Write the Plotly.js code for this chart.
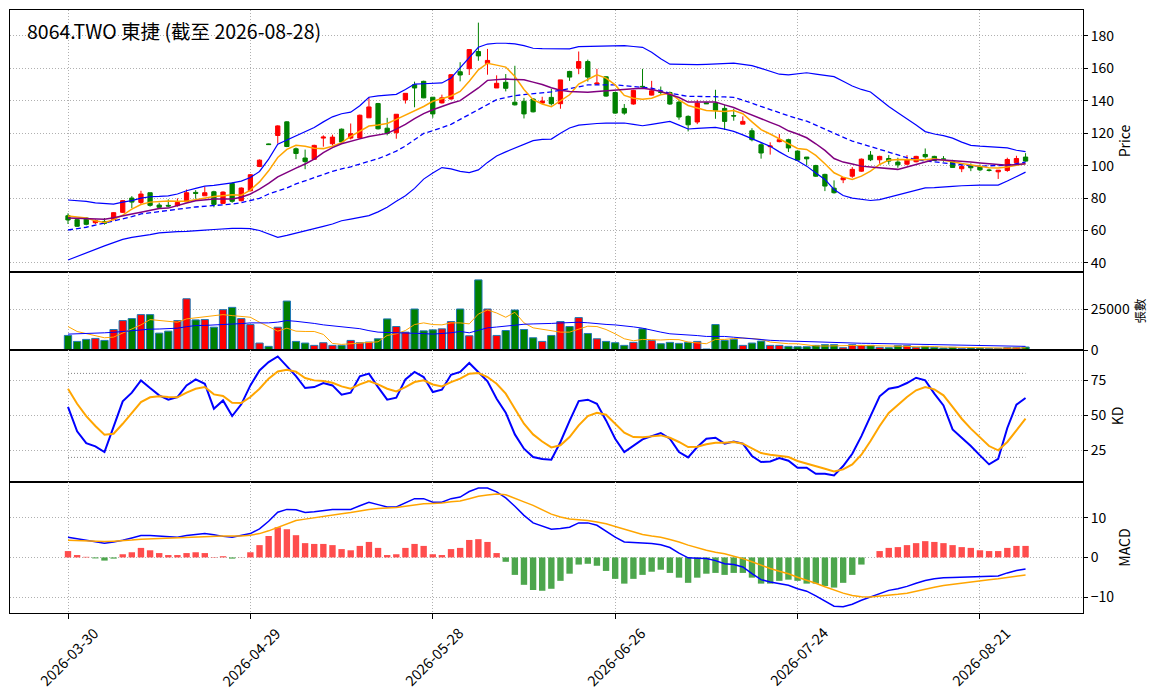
<!DOCTYPE html>
<html><head><meta charset="utf-8">
<script src="https://cdn.plot.ly/plotly-3.0.1.min.js"></script>
<style>html,body{margin:0;padding:0;background:#fff}#chart{width:1164px;height:698px}</style>
</head><body><div id="chart"></div>
<script>
const dates = [
"2026-03-30","2026-03-31","2026-04-01","2026-04-02","2026-04-07","2026-04-08","2026-04-09","2026-04-10","2026-04-13","2026-04-14",
"2026-04-15","2026-04-16","2026-04-17","2026-04-20","2026-04-21","2026-04-22","2026-04-23","2026-04-24","2026-04-27","2026-04-28",
"2026-04-29","2026-04-30","2026-05-04","2026-05-05","2026-05-06","2026-05-07","2026-05-08","2026-05-11","2026-05-12","2026-05-13",
"2026-05-14","2026-05-15","2026-05-18","2026-05-19","2026-05-20","2026-05-21","2026-05-22","2026-05-25","2026-05-26","2026-05-27",
"2026-05-28","2026-05-29","2026-06-01","2026-06-02","2026-06-03","2026-06-04","2026-06-05","2026-06-08","2026-06-09","2026-06-10",
"2026-06-11","2026-06-12","2026-06-15","2026-06-16","2026-06-17","2026-06-18","2026-06-22","2026-06-23","2026-06-24","2026-06-25",
"2026-06-26","2026-06-29","2026-06-30","2026-07-01","2026-07-02","2026-07-03","2026-07-06","2026-07-07","2026-07-08","2026-07-09",
"2026-07-10","2026-07-13","2026-07-14","2026-07-15","2026-07-16","2026-07-17","2026-07-20","2026-07-21","2026-07-22","2026-07-23",
"2026-07-24","2026-07-27","2026-07-28","2026-07-29","2026-07-30","2026-07-31","2026-08-03","2026-08-04","2026-08-05","2026-08-06",
"2026-08-07","2026-08-10","2026-08-11","2026-08-12","2026-08-13","2026-08-14","2026-08-17","2026-08-18","2026-08-19","2026-08-20",
"2026-08-21","2026-08-24","2026-08-25","2026-08-26","2026-08-27","2026-08-28"];
const tickDates = ["2026-03-30","2026-04-29","2026-05-28","2026-06-26","2026-07-24","2026-08-21"];

const open = [69.1,66.7,67.7,64.8,65.6,66.7,71.2,80.0,77.3,83.3,
75.7,75.5,75.3,77.7,83.5,81.4,83.9,76.7,89.0,78.4,
84.5,99.5,113.4,118.6,127.0,110.4,104.7,103.9,117.0,113.5,
122.5,117.0,117.0,129.5,138.3,123.1,120.3,140.5,149.9,152.0,
142.2,138.7,141.1,157.9,159.8,170.4,163.0,147.9,151.4,139.1,
139.7,141.1,138.6,142.1,138.2,158.1,160.1,164.2,150.3,154.8,
145.1,135.3,138.0,148.9,143.5,145.5,145.1,139.2,130.4,126.9,
138.8,138.6,135.3,130.9,125.6,121.5,112.9,111.7,114.8,116.0,
109.0,105.3,100.1,94.6,86.1,91.3,93.5,96.6,106.5,103.6,
104.4,102.2,100.9,102.4,106.9,105.7,104.2,102.6,98.1,99.9,
99.1,97.3,96.2,97.0,101.8,105.3];
const close = [66.5,62.6,63.8,66.1,64.4,71.0,78.4,77.5,82.5,75.5,
74.3,75.1,77.3,83.3,82.9,83.3,76.1,83.7,78.0,86.2,
94.4,103.4,113.0,124.5,111.8,107.5,102.5,112.5,117.6,117.6,
114.6,119.7,131.1,136.2,122.7,119.9,131.7,144.6,147.9,141.8,
131.9,141.8,156.1,155.9,171.6,167.7,164.9,150.8,147.7,137.5,
131.9,133.2,139.8,138.2,152.9,154.6,164.2,154.6,150.9,142.9,
132.4,132.4,146.4,148.6,146.2,145.2,138.0,130.0,125.2,138.6,
138.2,134.1,127.3,130.6,127.3,116.0,107.8,112.1,116.0,110.9,
103.4,104.2,93.5,87.4,83.3,92.5,97.7,104.0,103.6,105.7,
102.8,100.5,103.6,105.7,105.5,103.2,103.8,98.9,99.5,98.7,
97.4,97.1,97.2,103.8,104.4,102.8];
const high = [70.6,67.1,68.1,66.9,67.7,71.3,78.8,81.2,84.5,83.3,
77.1,79.2,79.8,85.3,84.9,87.0,84.5,84.1,89.8,86.6,
94.8,103.8,113.6,124.9,127.4,111.2,109.9,112.9,118.7,119.1,
122.9,126.0,131.5,142.2,138.7,129.5,131.7,144.6,151.8,152.4,
142.2,143.8,156.5,163.8,171.6,188.2,172.0,155.7,156.5,161.6,
141.8,141.5,142.5,147.4,152.9,158.5,170.4,165.4,159.7,155.2,
145.5,138.0,146.8,159.7,152.3,148.8,145.7,140.6,131.0,140.6,
139.0,146.8,137.5,135.1,130.4,123.1,113.9,114.4,119.5,116.6,
109.4,105.3,100.5,95.0,90.9,92.9,99.1,104.4,109.0,106.1,
106.5,104.9,106.5,106.1,110.6,106.1,105.9,103.6,100.1,101.4,
100.7,98.1,97.2,104.9,106.1,107.7];
const low = [64.0,62.2,63.2,64.0,63.6,66.3,70.8,73.8,75.9,74.7,
73.8,74.3,74.7,77.5,79.6,81.4,74.3,76.3,77.1,77.9,
84.1,99.1,112.8,113.6,111.4,104.0,97.8,103.5,111.7,112.5,
114.2,116.2,116.6,129.5,122.3,118.7,116.6,138.3,136.0,141.6,
129.5,138.3,140.7,152.0,155.9,164.7,156.1,147.9,145.8,137.1,
129.1,132.8,138.2,137.1,135.1,152.3,156.4,151.9,149.8,142.5,
132.0,131.4,137.6,148.2,143.3,143.7,137.5,128.3,121.1,125.6,
138.0,128.9,122.0,127.7,125.6,115.0,104.3,106.8,114.4,108.4,
103.0,100.1,93.1,84.3,82.8,89.2,92.5,96.2,102.8,101.2,
100.7,98.7,100.3,102.0,104.4,102.8,102.4,98.7,96.0,96.6,
96.6,96.4,91.8,96.2,101.8,102.4];

const bbUpper = [78.8,78.5,78,77,76.5,76.3,77.5,78.4,80,80.8,
81,81.4,82.5,84.5,86,87.4,87.8,88.5,89.4,90.5,
92.7,96.4,104,113.2,115.7,118.5,120.6,123.5,127,130.1,
132,133,137,142.2,143,143.5,144,147,150.3,150.5,
150.8,151,154,160.2,167,173,175,175.5,175.5,175.1,
174,172.4,172.2,172,171.8,172,173.4,173.6,173.8,174,
174,174,173.5,173,170,166,162.6,162.4,162.2,162.3,
162.5,162.8,163,163.2,162.5,161.7,160,158,156.4,156,
156.8,157.3,156.5,155.8,154.9,152,149.1,147,145.4,141,
136.5,132.6,129,125,121,119.5,118.5,117,114.5,112.5,
112,111.6,111.3,111,109.5,108.6];
const bbMid = [60.3,61,62,63.3,64.5,66,67.3,68.5,70.2,71,
71.8,72.6,73.2,73.8,74.5,74.9,75.2,75.7,76.3,77.2,
78.4,79.8,82.5,84.5,86.2,88.7,90.7,92.5,94.7,96.5,
98,99.2,101,102.5,104.3,106.5,109,112.1,116,119.9,
121.5,123.4,125.5,128.5,131.5,134.6,138,140.7,142,143.2,
143.8,144.4,144.6,145.5,146.5,147.4,148.6,149.8,149.8,149.8,
149.8,149.3,148.8,148.3,147.8,146.3,144.7,143.7,142.7,142.7,
142.7,142.7,142.4,142.1,140.4,138.6,136.5,134.5,132.5,130.8,
129,127.5,125,122.5,120.3,117.5,115.1,113.5,111.7,110,
108.3,106.6,104.9,103.8,102.8,102.3,101.7,100.7,100.3,99.9,
99.7,99.8,100,100.3,101.2,102.2];
const bbLower = [41.8,44,46.5,48.5,50.5,52.5,54.5,55.8,56.5,57.5,
58.5,59,59.3,59.5,59.7,60.2,60.6,61,61.3,61.3,
61.1,60,57.8,55.8,57,58.3,59.5,61,62.5,64,
66,67,68,69.2,71.5,74.3,78,81.4,86,91.7,
95.5,98.8,98,96.5,95.7,97.4,102,106,108.5,110.9,
113,115.4,116.2,116.4,120,123.2,125,125.6,126,126.2,
126.3,126.3,125.5,124.6,125.5,126.5,127.3,125,122.6,123,
123.3,123.6,122.5,121.1,119,116.6,114.2,111.9,108.5,105.3,
103,99.7,95.5,91.5,85.3,81.6,80,79.2,78.5,79,
80.5,81.6,83.3,85,86.3,86.5,86.7,87.2,87.6,88,
88,88,88,90.5,93.5,96];
const ma5 = [69,68.3,67.7,66,65,66.7,69.5,73.2,76,77.5,
78,78.2,78,78,79,80,81,81.5,82,81.8,
84.9,90,96.8,105,110,112.6,112,110.8,110.5,112,
114.2,118,121,124.4,125,126,128.5,131,133.6,136.5,
139.7,141.5,143,145.8,152,159.1,163.2,162,160.8,155,
147,140.7,138,136.3,140,143.7,150.3,153,156,154,
149.8,143.3,141.6,141,141.6,143.7,144.7,140.6,137.1,135.5,
134,133.7,133.4,134,132,127,122.2,119.5,116.6,113.5,
110.6,110,106.3,101.2,95.6,92.9,91.5,93.5,96.6,100.7,
103.4,103.8,103.6,103.6,103.6,104.2,103.5,102.4,101.3,100.3,
99.5,98.7,98.5,99.1,100.2,101.2];
const ma10 = [67.7,67.5,67.3,67.2,67,67.8,68.8,70.2,71.3,72.5,
73.5,73.8,75.5,77,78.4,79,79.4,79.4,79.4,80.5,
82.5,85.5,89,93.1,96,98.5,101,104,108,111.1,
113.5,115.2,116.5,118,119,119.9,122.5,125.4,129,132.1,
134.5,136.6,138.5,140.1,144,147.9,152.6,153.2,153.4,153.2,
153,151.5,150,148,146.5,145.7,145.5,145.3,145.8,146.3,
146.6,147,147.4,147.8,147,145.7,144,142,139.2,139.2,
139.2,139.2,137.5,135.9,133.5,131.4,129,126.7,124.5,121.5,
119.5,117.2,113.5,109.4,104.4,102.2,101,99.7,99.2,98.7,
98.3,97.7,99.2,100.7,102.5,103.8,103.5,103.2,102.7,102.2,
101.7,101.2,100.7,100.3,100.7,101.2];

const volume = [8870,5240,6450,7060,5850,12500,17940,19150,21570,21570,
10280,11490,17940,31250,18350,18550,13910,24600,26000,19150,
15520,4230,2220,13910,29840,5240,4230,2820,4440,2820,
2820,5850,4440,4840,6850,18950,14310,10890,25000,11690,
12300,12900,17340,25000,8670,42740,25000,8870,11890,24390,
12500,7460,5240,8870,17340,14310,19760,10080,6850,5240,
4440,2820,4640,12900,5850,3830,4640,4030,4640,5240,
600,15520,5850,6450,2820,4230,5440,2820,2820,2220,
2000,2000,2820,3230,3230,1400,3230,2820,2820,1610,
1400,2620,2620,1610,2220,1610,1210,1610,1000,1210,
1210,1000,1000,1400,1400,1810];
const volMa5 = [14310,11290,10000,8870,7460,7860,10280,12800,15320,18550,
18000,17340,16930,18950,19700,20360,21000,21570,20970,20500,
19960,16930,14000,11490,13310,11490,11290,11300,9500,4000,
3400,3830,4000,4840,5000,8870,9880,11890,15520,16530,
15520,15320,16530,16530,15930,21970,24390,22580,19960,22980,
16530,13510,12500,11500,10890,10890,12900,14520,14300,12500,
9880,6850,5640,6450,6300,6100,6400,6300,4840,4500,
3830,6450,6450,7000,7260,7000,6500,4840,4200,3830,
3800,3000,2500,2400,2650,2550,2750,2750,2700,2600,
2300,2250,2200,1950,2100,2050,1800,1650,1500,1300,
1250,1200,1100,1150,1200,1350];
const volMa20 = [9680,9800,10000,10200,10480,10800,11300,11900,12500,12700,
12800,12900,13300,14200,14920,15000,15200,15520,15800,16100,
16530,16530,16530,17000,17940,17500,16930,16200,15320,14800,
14300,13910,13000,11800,10890,10700,10600,10480,10300,10000,
9680,10000,10500,11290,10480,12000,13510,14000,14600,15520,
15700,15900,15930,16200,16500,16700,16930,16600,15930,15600,
15300,14920,14100,13310,12000,10900,9880,9600,9270,8800,
8270,8270,8270,7800,7260,6700,6250,5900,5650,5440,
5240,5000,4800,4600,4440,4300,4200,4100,4030,3900,
3800,3700,3630,3500,3300,3100,2950,2820,2750,2700,
2650,2620,2500,2400,2300,2220];

const kValues = [56,38.6,30.2,27.9,23.8,41.7,60,66.2,75,69.5,
64.3,61.2,63.1,71.4,75.7,72.6,54.8,60.7,49.5,57.9,
71.4,82.1,88.1,92.1,85.2,78,69.5,70.2,73.1,71.4,
64.8,66.2,77.9,79.8,70.2,61.2,62.6,75.7,81,77.4,
66.7,68.3,79,81,87.4,81,74.3,61.9,51.9,36.4,
26.2,20.2,18.8,18.3,31,46,60.2,61.2,58.3,46.4,
33.3,23.8,28.1,32.9,35.2,37.4,33.3,23.8,20,27.4,
33.3,34,29.8,31.4,29.8,21,16.7,17.1,19.5,17.6,
12.6,12.6,8.3,8.3,7.1,13.8,22.6,35.2,49.5,63.6,
69,70.2,73.1,76.9,75,65.5,57.1,40,34,28.1,
21.4,15,19,41,57.6,62.4];
const dValues = [69,58.3,49.5,42.4,36.2,36.9,44,51.9,59.5,62.9,
63.6,63.1,62.9,66.2,69,70.2,65,63.8,59,58.8,
63.1,69,76.2,81.4,82.6,81.2,76.7,75,74.5,73.3,
70.7,69,72.1,74.5,72.1,69,67.1,70.2,73.8,75,
72.1,70.7,73.8,76.2,79.8,80.2,77.4,72.6,65.5,54.8,
44,36.4,31.3,27.1,28.6,34.5,42.9,49.5,51.9,50.5,
44,37.6,34.5,34.3,35,35.7,34,31,27.4,27.6,
29.3,30.5,30.5,31,29.8,26.2,23.1,21.9,21,20.2,
17.4,15.7,13.8,11.9,10,11.4,15,21.9,31.7,42.4,
51.7,57.6,63.1,67.9,70.2,68.6,64.3,56,47.6,40.5,
34,28.1,25,31,39.3,47.6];
const kdLevels = [80, 20];

const dif = [5.1,4.7,4.3,4.0,3.6,3.9,4.3,4.9,5.5,5.5,
5.4,5.2,5.1,5.5,5.8,6.0,5.7,5.3,5.1,5.5,
6.0,7.2,9.1,11.4,12.1,12.0,11.3,11.5,11.8,12.1,
12.1,12.1,13.0,13.9,13.3,12.7,12.7,13.7,14.8,14.8,
13.9,13.9,14.8,15.2,16.6,17.5,17.5,16.5,15.0,12.9,
10.6,8.7,7.8,7.1,7.3,7.6,8.7,8.7,8.1,6.6,
5.1,3.9,3.8,3.7,3.5,3.2,2.5,1.1,-0.1,-0.2,
-0.3,-0.8,-1.6,-1.8,-2.4,-4.1,-5.6,-6.2,-6.6,-7.0,
-7.9,-8.5,-9.7,-11.1,-12.3,-12.4,-11.8,-10.8,-10.0,-9.2,
-8.3,-7.9,-7.3,-6.5,-5.8,-5.4,-5.1,-5.05,-5.0,-4.95,
-4.9,-4.8,-4.7,-3.9,-3.3,-2.9];
const signal = [4.3,4.2,4.1,4.0,4.0,4.1,4.2,4.4,4.6,4.7,
4.8,4.9,5.0,5.1,5.2,5.3,5.4,5.4,5.4,5.4,
5.6,6.0,6.7,7.6,8.5,9.3,9.65,10.0,10.4,10.8,
11.0,11.3,11.7,12.1,12.3,12.4,12.6,12.9,13.2,13.5,
13.6,13.7,14.0,14.2,14.8,15.4,15.7,16.0,15.8,15.0,
14.0,13.1,12.1,10.9,10.2,9.7,9.5,9.3,8.9,8.5,
7.8,7.1,6.5,5.8,5.4,5.1,4.5,3.9,3.1,2.4,
1.8,1.3,0.9,0.3,-0.3,-1.1,-2.0,-2.8,-3.5,-4.1,
-5.0,-5.7,-6.5,-7.4,-8.3,-9.0,-9.6,-9.9,-10.0,-9.8,
-9.6,-9.3,-9.0,-8.5,-7.9,-7.5,-7.1,-6.8,-6.4,-6.1,
-5.8,-5.6,-5.4,-5.1,-4.7,-4.4];
const histogram = [1.6,0.6,0.15,-0.25,-0.8,-0.3,0.8,1.3,2.4,1.8,
1.1,0.6,0.6,1.1,1.3,1.1,0.1,0.3,-0.3,0.05,
1.3,3.1,5.4,7.6,7.1,5.6,3.6,3.4,3.4,3.1,
2.1,1.8,2.9,3.9,2.4,0.6,0.8,2.4,3.4,2.9,
0.8,0.6,2.1,2.4,4.4,4.6,3.9,1.1,-1.1,-4.4,
-6.9,-8.2,-8.4,-7.9,-5.9,-4.1,-1.8,-1.6,-2.1,-3.4,
-5.4,-6.6,-5.4,-4.4,-3.6,-3.1,-3.9,-5.1,-6.4,-5.1,
-4.1,-3.9,-4.4,-3.9,-3.9,-5.1,-6.6,-6.6,-5.9,-5.6,
-5.9,-6.6,-6.6,-7.2,-7.6,-6.4,-4.4,-1.8,0,1.6,
2.4,2.6,3.1,3.6,4.1,3.9,3.6,3.1,2.6,2.4,
1.8,1.6,1.6,2.4,2.9,2.9];

const FONT = '"Noto Sans CJK TC", "Noto Sans", sans-serif';
const GRID = '#b0b0b0';
const GDASH = '1px,2px';
const UP = '#ff0000', DOWN = '#008000';

const volColors = close.map((c, i) => c >= open[i] ? UP : DOWN);
const histColors = histogram.map(v => v >= 0 ? '#ff4d4d' : '#4da64d');

function line(y, color, width, xa, ya, dash) {
  return {type:'scatter', mode:'lines', x:dates, y:y, xaxis:xa, yaxis:ya,
    line:{color:color, width:width, dash:dash||'solid'}, hoverinfo:'skip', showlegend:false};
}

const traces = [
  {type:'candlestick', x:dates, open:open, high:high, low:low, close:close, xaxis:'x', yaxis:'y',
   increasing:{line:{color:UP, width:1}, fillcolor:UP},
   decreasing:{line:{color:DOWN, width:1}, fillcolor:DOWN},
   whiskerwidth:0, showlegend:false, hoverinfo:'skip'},
  line(bbUpper, '#0000ff', 1.2, 'x', 'y'),
  line(bbLower, '#0000ff', 1.2, 'x', 'y'),
  line(bbMid, '#0000ff', 1.3, 'x', 'y', '5px,3px'),
  line(ma5, '#ffa500', 1.5, 'x', 'y'),
  line(ma10, '#800080', 1.5, 'x', 'y'),

  {type:'bar', x:dates, y:volume, xaxis:'x2', yaxis:'y2', width:0.8,
   marker:{color:volColors, line:{color:'#1f77b4', width:1}}, showlegend:false, hoverinfo:'skip'},
  line(volMa5, '#ffa500', 1, 'x2', 'y2'),
  line(volMa20, '#0000ff', 1, 'x2', 'y2'),

  {type:'scatter', mode:'lines', x:[dates[0], dates[dates.length-1]], y:[kdLevels[0], kdLevels[0]],
   xaxis:'x3', yaxis:'y3', line:{color:'#808080', width:1, dash:GDASH}, showlegend:false, hoverinfo:'skip'},
  {type:'scatter', mode:'lines', x:[dates[0], dates[dates.length-1]], y:[kdLevels[1], kdLevels[1]],
   xaxis:'x3', yaxis:'y3', line:{color:'#808080', width:1, dash:GDASH}, showlegend:false, hoverinfo:'skip'},
  line(kValues, '#0000ff', 2, 'x3', 'y3'),
  line(dValues, '#ffa500', 2, 'x3', 'y3'),

  {type:'bar', x:dates, y:histogram, xaxis:'x4', yaxis:'y4', width:0.7,
   marker:{color:histColors, line:{width:0}}, showlegend:false, hoverinfo:'skip'},
  line(dif, '#0000ff', 1.5, 'x4', 'y4'),
  line(signal, '#ffa500', 1.5, 'x4', 'y4')
];

const XR = [-6.36, 111.3];
function xax(anchor, extra) {
  return Object.assign({type:'category', anchor:anchor, domain:[0,1], range:XR, autorange:false,
    tickvals:tickDates, showticklabels:false, ticks:'', showline:true, mirror:true,
    linecolor:'#000', linewidth:1, showgrid:true, gridcolor:GRID, griddash:GDASH, gridwidth:1,
    zeroline:false, fixedrange:true}, extra||{});
}
function yax(anchor, domain, range, tickvals, ticktext, title, tsize) {
  return {anchor:anchor, domain:domain, range:range, autorange:false, side:'right',
    tickvals:tickvals, ticktext:ticktext, ticks:'outside', ticklen:4, tickcolor:'#000',
    tickfont:{family:FONT, size:14, color:'#000'},
    showline:true, mirror:true, linecolor:'#000', linewidth:1,
    showgrid:true, gridcolor:GRID, griddash:GDASH, gridwidth:1, zeroline:false,
    title:{text:title, font:{family:FONT, size:tsize, color:'#000'}, standoff:6}};
}

const H = 603;
const dMain = [(613-272)/H, 1];
const dVol = [(613-350)/H, (613-272)/H];
const dKD = [(613-482)/H, (613-350)/H];
const dMacd = [0, (613-482)/H];

const annotations = [{
  text:'8064.TWO 東捷 (截至 2026-08-28)', xref:'paper', yref:'paper', x:(25-10)/1073, y:(613-31)/H,
  xanchor:'left', yanchor:'middle', showarrow:false, font:{family:FONT, size:19.5, color:'#000'}
}];
tickDates.forEach(d => annotations.push({
  text:d, xref:'x4', yref:'paper', x:d, y:(613-656)/H, xanchor:'center', yanchor:'middle',
  textangle:-45, showarrow:false, font:{family:FONT, size:14.5, color:'#000'}
}));

const layout = {
  width:1164, height:698, paper_bgcolor:'#fff', plot_bgcolor:'#fff',
  margin:{l:10, r:81, t:10, b:85}, showlegend:false, font:{family:FONT, color:'#000'},
  bargap:0.2, boxgap:0.33,
  xaxis: xax('y', {rangeslider:{visible:false}}),
  xaxis2: xax('y2', {matches:'x'}),
  xaxis3: xax('y3', {matches:'x'}),
  xaxis4: xax('y4', {matches:'x', ticks:'outside', ticklen:5, tickcolor:'#000'}),
  yaxis: yax('x', dMain, [34.4, 196], [40,60,80,100,120,140,160,180], ['40','60','80','100','120','140','160','180'], 'Price', 14),
  yaxis2: yax('x2', dVol, [0, 47560], [0, 25000], ['0','25000'], '張數', 12.5),
  yaxis3: yax('x3', dKD, [2.4, 96.7], [25,50,75], ['25','50','75'], 'KD', 14),
  yaxis4: yax('x4', dMacd, [-14, 19], [-10,0,10], ['\u221210','0','10'], 'MACD', 14),
  annotations: annotations
};

Plotly.newPlot('chart', traces, layout, {staticPlot:true, displayModeBar:false});
</script>
</body></html>
